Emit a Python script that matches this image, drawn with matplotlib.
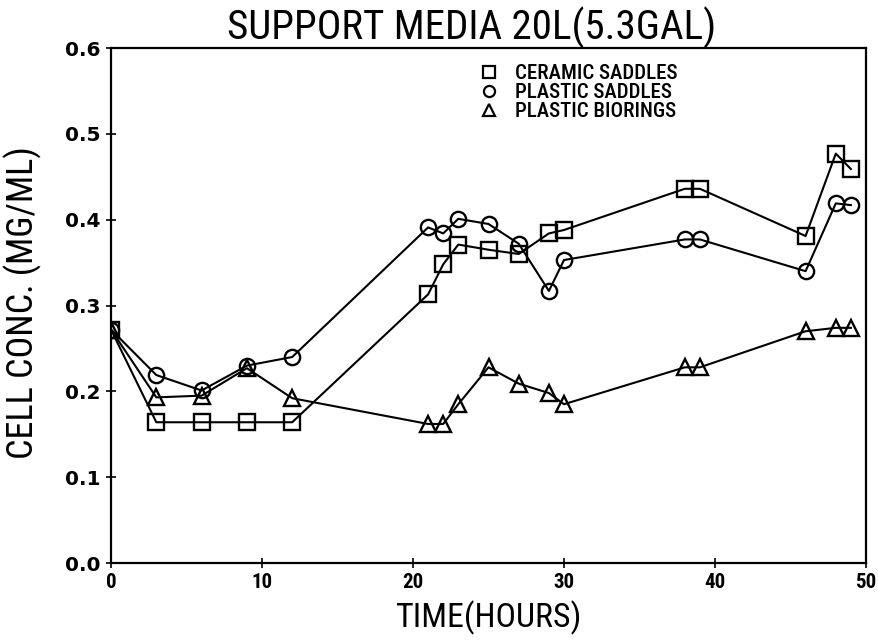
import matplotlib
matplotlib.use("Agg")
import matplotlib.pyplot as plt
from matplotlib.lines import Line2D

# time (hours) is the same for all three media
hours = [0, 3, 6, 9, 12, 21, 22, 23, 25, 27, 29, 30, 38, 39, 46, 48, 49]
ceramicSaddles = [0.272, 0.164, 0.164, 0.164, 0.164, 0.313, 0.348, 0.371, 0.365,
                  0.360, 0.384, 0.388, 0.436, 0.436, 0.381, 0.477, 0.459]
plasticSaddles = [0.272, 0.219, 0.201, 0.230, 0.240, 0.391, 0.384, 0.401, 0.395,
                  0.372, 0.317, 0.353, 0.377, 0.377, 0.340, 0.419, 0.417]
plasticBiorings = [0.272, 0.193, 0.195, 0.227, 0.192, 0.162, 0.162, 0.185, 0.228,
                   0.209, 0.198, 0.185, 0.228, 0.228, 0.270, 0.274, 0.274]

seriesNames = ["CERAMIC SADDLES", "PLASTIC SADDLES", "PLASTIC BIORINGS"]
seriesMarkers = ["s", "o", "^"]
xTicks = [0, 10, 20, 30, 40, 50]
yTicks = [0.0, 0.1, 0.2, 0.3, 0.4, 0.5, 0.6]

plt.rcParams['font.family'] = ['DejaVu Sans']
narrow = ['Roboto Condensed', 'DejaVu Sans']

fig = plt.figure(figsize=(8.79, 6.43), dpi=100)
ax = fig.add_axes([0.1263, 0.1244, 0.8589, 0.8009])

for values, marker in zip([ceramicSaddles, plasticSaddles, plasticBiorings], seriesMarkers):
    ax.plot(hours, values, color="black", linewidth=1.5, marker=marker,
            markersize=11 if marker != "^" else 12, markerfacecolor="none",
            markeredgewidth=1.7, markeredgecolor="black")

ax.set_xlim(0, 50)
ax.set_ylim(0, 0.6)
ax.set_xticks(xTicks)
ax.set_yticks(yTicks)
ax.set_xticklabels([str(t) for t in xTicks], fontsize=15, fontweight="bold", family=narrow)
ax.set_yticklabels(["%.1f" % t for t in yTicks], fontsize=14.5, fontweight="bold")
ax.tick_params(direction="inout", length=7, width=1.2, pad=4)
for spine in ax.spines.values():
    spine.set_linewidth(1.6)

fig.text(0.537, 0.956, "SUPPORT MEDIA 20L(5.3GAL)", fontsize=29.5, family=narrow,
         ha="center", va="center")
fig.text(0.556, 0.040, "TIME(HOURS)", fontsize=24.5, family=narrow,
         ha="center", va="center")
fig.text(0.026, 0.530, "CELL CONC. (MG/ML)", fontsize=26, family=narrow,
         rotation=90, ha="center", va="center")

handles = [Line2D([], [], linestyle="none", marker=m, markersize=8, markerfacecolor="none",
                  markeredgecolor="black", markeredgewidth=1.6) for m in seriesMarkers]
leg = ax.legend(handles, seriesNames, loc="upper left", bbox_to_anchor=(0.462, 1.005),
                frameon=False, handlelength=1.0, handletextpad=0.75, labelspacing=0.0,
                prop={'size': 15, 'family': narrow, 'weight': 'medium'})

fig.savefig("out.png", dpi=100)
